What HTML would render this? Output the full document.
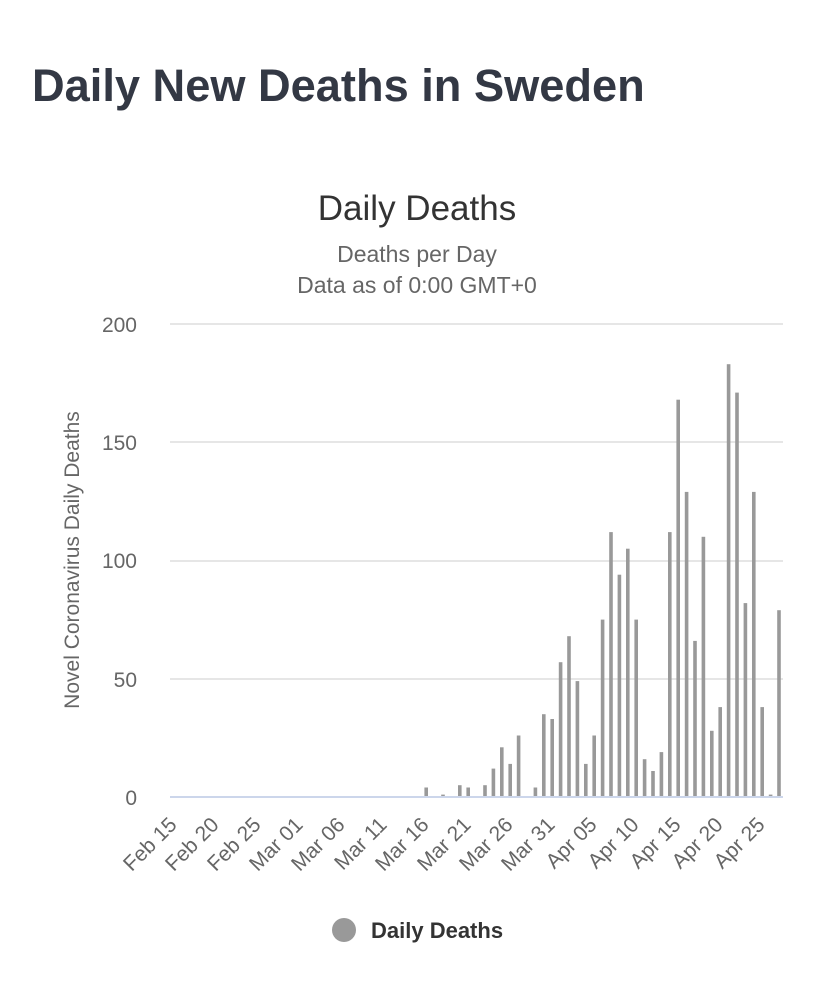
<!DOCTYPE html><html><head><style>body{margin:0;background:#fff;}svg{display:block}</style></head><body>
<svg width="833" height="1000" xmlns="http://www.w3.org/2000/svg" font-family="Liberation Sans, sans-serif">
<text x="32" y="101" font-size="45.2" font-weight="bold" fill="#333844">Daily New Deaths in Sweden</text>
<text x="417" y="220" font-size="35" fill="#333" text-anchor="middle">Daily Deaths</text>
<text x="417" y="262" font-size="23" fill="#666" text-anchor="middle">Deaths per Day</text>
<text x="417" y="293" font-size="23" fill="#666" text-anchor="middle">Data as of 0:00 GMT+0</text>
<g stroke="#e6e6e6" stroke-width="2">
<line x1="170" x2="783" y1="324" y2="324"/><line x1="170" x2="783" y1="442" y2="442"/><line x1="170" x2="783" y1="561" y2="561"/><line x1="170" x2="783" y1="679" y2="679"/></g>
<g font-size="21" fill="#666" text-anchor="end">
<text x="137" y="332">200</text><text x="137" y="450">150</text><text x="137" y="568">100</text><text x="137" y="687">50</text><text x="137" y="805">0</text></g>
<text transform="translate(79,560) rotate(-90)" font-size="21" fill="#666" text-anchor="middle">Novel Coronavirus Daily Deaths</text>
<g fill="#999">
<rect x="424.4" y="787.5" width="3.6" height="9.5"/>
<rect x="441.2" y="794.6" width="3.6" height="2.4"/>
<rect x="458.0" y="785.2" width="3.6" height="11.8"/>
<rect x="466.4" y="787.5" width="3.6" height="9.5"/>
<rect x="483.2" y="785.2" width="3.6" height="11.8"/>
<rect x="491.6" y="768.6" width="3.6" height="28.4"/>
<rect x="500.0" y="747.3" width="3.6" height="49.7"/>
<rect x="508.4" y="763.9" width="3.6" height="33.1"/>
<rect x="516.8" y="735.5" width="3.6" height="61.5"/>
<rect x="533.6" y="787.5" width="3.6" height="9.5"/>
<rect x="542.0" y="714.2" width="3.6" height="82.8"/>
<rect x="550.4" y="719.0" width="3.6" height="78.0"/>
<rect x="558.8" y="662.2" width="3.6" height="134.8"/>
<rect x="567.2" y="636.2" width="3.6" height="160.8"/>
<rect x="575.6" y="681.1" width="3.6" height="115.9"/>
<rect x="584.0" y="763.9" width="3.6" height="33.1"/>
<rect x="592.4" y="735.5" width="3.6" height="61.5"/>
<rect x="600.8" y="619.6" width="3.6" height="177.4"/>
<rect x="609.2" y="532.1" width="3.6" height="264.9"/>
<rect x="617.6" y="574.7" width="3.6" height="222.3"/>
<rect x="626.0" y="548.7" width="3.6" height="248.3"/>
<rect x="634.4" y="619.6" width="3.6" height="177.4"/>
<rect x="642.8" y="759.2" width="3.6" height="37.8"/>
<rect x="651.2" y="771.0" width="3.6" height="26.0"/>
<rect x="659.6" y="752.1" width="3.6" height="44.9"/>
<rect x="668.0" y="532.1" width="3.6" height="264.9"/>
<rect x="676.4" y="399.7" width="3.6" height="397.3"/>
<rect x="684.8" y="491.9" width="3.6" height="305.1"/>
<rect x="693.2" y="640.9" width="3.6" height="156.1"/>
<rect x="701.6" y="536.8" width="3.6" height="260.2"/>
<rect x="710.0" y="730.8" width="3.6" height="66.2"/>
<rect x="718.4" y="707.1" width="3.6" height="89.9"/>
<rect x="726.8" y="364.2" width="3.6" height="432.8"/>
<rect x="735.2" y="392.6" width="3.6" height="404.4"/>
<rect x="743.6" y="603.1" width="3.6" height="193.9"/>
<rect x="752.0" y="491.9" width="3.6" height="305.1"/>
<rect x="760.4" y="707.1" width="3.6" height="89.9"/>
<rect x="768.8" y="794.6" width="3.6" height="2.4"/>
<rect x="777.2" y="610.2" width="3.6" height="186.8"/>
</g>
<line x1="170" x2="783" y1="797" y2="797" stroke="#ccd6eb" stroke-width="2"/>
<g font-size="21" fill="#666" text-anchor="end">
<text transform="translate(178,826) rotate(-45)">Feb 15</text>
<text transform="translate(220,826) rotate(-45)">Feb 20</text>
<text transform="translate(262,826) rotate(-45)">Feb 25</text>
<text transform="translate(304,826) rotate(-45)">Mar 01</text>
<text transform="translate(346,826) rotate(-45)">Mar 06</text>
<text transform="translate(388,826) rotate(-45)">Mar 11</text>
<text transform="translate(430,826) rotate(-45)">Mar 16</text>
<text transform="translate(472,826) rotate(-45)">Mar 21</text>
<text transform="translate(514,826) rotate(-45)">Mar 26</text>
<text transform="translate(556,826) rotate(-45)">Mar 31</text>
<text transform="translate(598,826) rotate(-45)">Apr 05</text>
<text transform="translate(640,826) rotate(-45)">Apr 10</text>
<text transform="translate(682,826) rotate(-45)">Apr 15</text>
<text transform="translate(724,826) rotate(-45)">Apr 20</text>
<text transform="translate(766,826) rotate(-45)">Apr 25</text>
</g>
<circle cx="344" cy="930" r="12" fill="#999"/>
<text x="371" y="938" font-size="22" font-weight="bold" fill="#333">Daily Deaths</text>
</svg></body></html>
